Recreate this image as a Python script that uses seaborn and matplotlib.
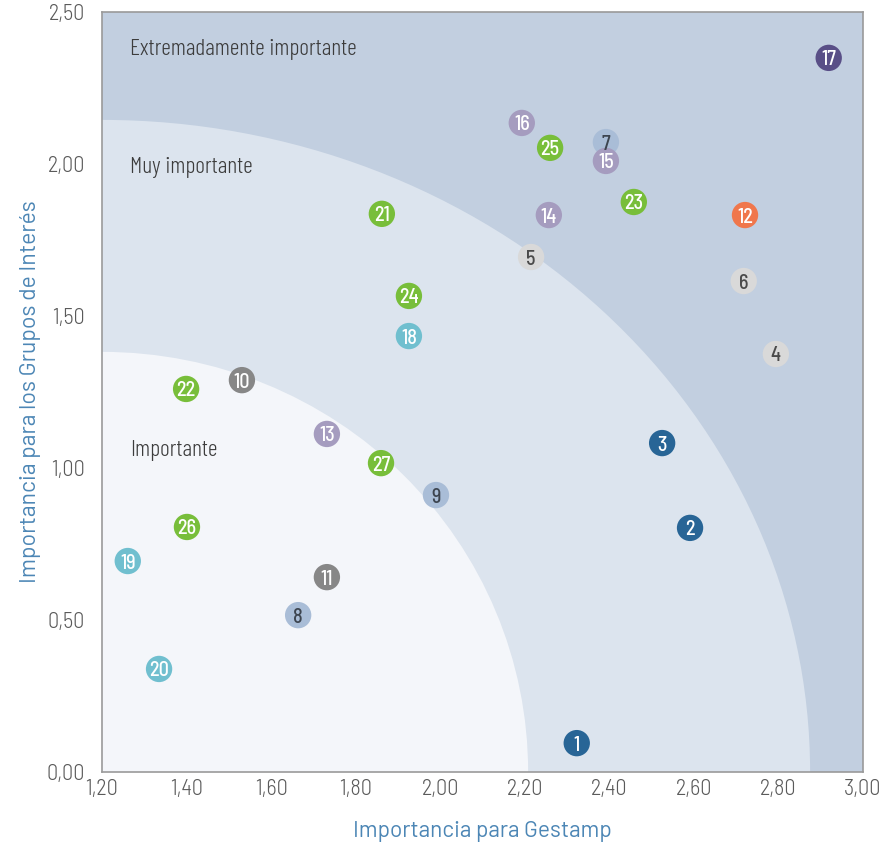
import matplotlib
matplotlib.use("Agg")
import matplotlib.pyplot as plt
from matplotlib.patches import Ellipse, Rectangle
from matplotlib.ticker import FuncFormatter, MultipleLocator, FixedLocator
import seaborn as sns
import pandas as pd

# Material issues: id, importance for Gestamp (x), importance for stakeholders (y), group
issue_ids = list(range(1, 28))
gestamp = [2.323, 2.591, 2.525, 2.794, 2.215, 2.718, 2.392, 1.664, 1.990, 1.531,
           1.732, 2.721, 1.732, 2.257, 2.392, 2.193, 2.919, 1.926, 1.261, 1.335,
           1.862, 1.399, 2.458, 1.926, 2.260, 1.401, 1.860]
stakeholders = [0.095, 0.803, 1.082, 1.375, 1.694, 1.615, 2.072, 0.516, 0.911, 1.289,
                0.641, 1.832, 1.112, 1.832, 2.010, 2.135, 2.349, 1.434, 0.694, 0.339,
                1.836, 1.260, 1.875, 1.566, 2.053, 0.806, 1.016]
groups = ["A", "A", "A", "B", "B", "B", "C", "C", "C", "D",
          "D", "E", "F", "F", "F", "F", "G", "H", "H", "H",
          "I", "I", "I", "I", "I", "I", "I"]

group_colors = {"A": "#286596", "B": "#d9d9d9", "C": "#a9bdd7", "D": "#878787",
                "E": "#f0774c", "F": "#a59cbf", "G": "#594f87", "H": "#70bfcf",
                "I": "#78be3a"}
label_colors = {"A": "white", "B": "#4a4a4a", "C": "#3d4550", "D": "white",
                "E": "white", "F": "white", "G": "white", "H": "white", "I": "white"}

zone_labels = ["Importante", "Muy importante", "Extremadamente importante"]
x_ticks = [1.2, 1.4, 1.6, 1.8, 2.0, 2.2, 2.4, 2.6, 2.8, 3.0]

df = pd.DataFrame({"id": issue_ids, "gestamp": gestamp,
                   "stakeholders": stakeholders, "group": groups})

sns.set_theme(style="white")
plt.rcParams["font.family"] = ["Barlow", "DejaVu Sans"]

fig = plt.figure(figsize=(8.83, 8.43), dpi=100)
ax = fig.add_axes([0.1155, 0.0842, 0.8618, 0.9016])
ax.set_xlim(1.2, 3.0)
ax.set_ylim(0, 2.5)

# Importance zones: nested quarter ellipses anchored at the lower-left corner
origin = (1.2, 0.0)
ax.add_patch(Rectangle(origin, 1.8, 2.5, color="#c2cfe0", zorder=0, lw=0))
ax.add_patch(Ellipse(origin, 2 * 1.675, 2 * 2.145, color="#dce4ee", zorder=0.5, lw=0))
ax.add_patch(Ellipse(origin, 2 * 1.008, 2 * 1.382, color="#f4f6fa", zorder=0.6, lw=0))

sns.scatterplot(data=df, x="gestamp", y="stakeholders", hue="group",
                palette=group_colors, s=360, linewidth=0, legend=False,
                ax=ax, zorder=3)

for _, r in df.iterrows():
    ax.text(r["gestamp"], r["stakeholders"], str(r["id"]), ha="center",
            va="center_baseline", fontsize=14.5, fontweight=500,
            color=label_colors[r["group"]],
            family=["Barlow Semi Condensed", "DejaVu Sans"], zorder=4)

zone_font = dict(family=["Barlow Condensed", "DejaVu Sans"], fontweight=300,
                 fontsize=17, color="#3c3c3c", ha="left", va="center",
                 transform=ax.transAxes)
ax.text(0.037, 0.423, zone_labels[0], **zone_font)
ax.text(0.037, 0.795, zone_labels[1], **zone_font)
ax.text(0.037, 0.951, zone_labels[2], **zone_font)

ax.xaxis.set_major_locator(FixedLocator(x_ticks))
ax.yaxis.set_major_locator(MultipleLocator(0.5))
comma = FuncFormatter(lambda v, p: f"{v:.2f}".replace(".", ","))
ax.xaxis.set_major_formatter(comma)
ax.yaxis.set_major_formatter(comma)
ax.tick_params(axis="both", length=0, labelsize=16, labelcolor="#5a5a5a")
ax.tick_params(axis="x", pad=5)
ax.tick_params(axis="y", pad=12)
for lab in ax.get_xticklabels() + ax.get_yticklabels():
    lab.set_family(["Barlow Semi Condensed", "DejaVu Sans"])
    lab.set_fontweight(300)

for sp in ax.spines.values():
    sp.set_color("#9a9a9a")
    sp.set_linewidth(1.2)
    sp.set_zorder(5)

ax.set_xlabel("Importancia para Gestamp", fontsize=16.3, color="#4c86b5", labelpad=15)
ax.set_ylabel("Importancia para los Grupos de Interés", fontsize=16.5,
              color="#4c86b5", labelpad=4)

fig.savefig("out.png", dpi=100)
